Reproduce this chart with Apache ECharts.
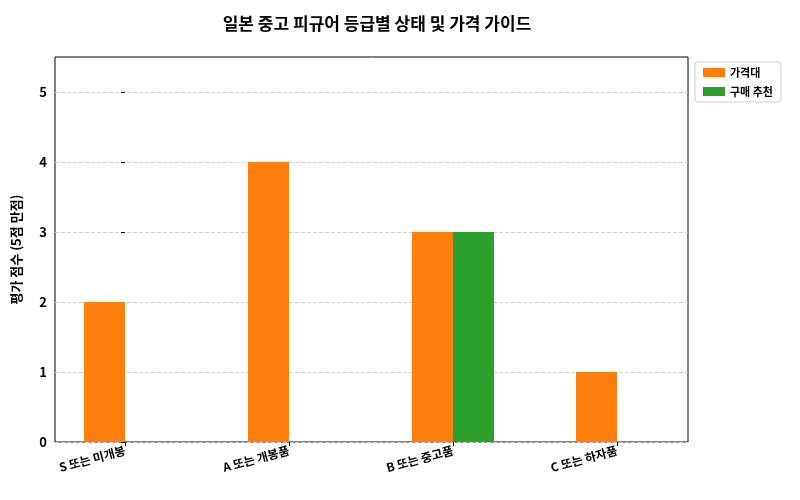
<!DOCTYPE html>
<html>
<head>
<meta charset="utf-8">
<script src="https://cdn.jsdelivr.net/npm/echarts@6/dist/echarts.min.js"></script>
<style>html,body{margin:0;padding:0;background:#fff}#chart{width:800px;height:500px}</style>
</head>
<body>
<div id="chart"></div>
<script>
var categories = ["S 또는 미개봉", "A 또는 개봉품", "B 또는 중고품", "C 또는 하자품"];
var priceBand = [2, 4, 3, 1];        // 가격대
var recommend = [null, null, 3, null]; // 구매 추천
var yTicks = [0, 1, 2, 3, 4, 5];

var font = "'Noto Sans CJK KR', sans-serif";
var chart = echarts.init(document.getElementById('chart'));

var orangeData = priceBand.map(function (v, i) { return v == null ? null : [i - 0.125, v]; }).filter(Boolean);
var greenData = recommend.map(function (v, i) { return v == null ? null : [i + 0.125, v]; }).filter(Boolean);

chart.setOption({
  animation: false,
  textStyle: { fontFamily: font },
  title: {
    text: '일본 중고 피규어 등급별 상태 및 가격 가이드',
    left: 372, top: 10, textAlign: 'center',
    textStyle: { fontSize: 17, fontWeight: 'bold', color: '#000', fontFamily: font }
  },
  legend: {
    orient: 'vertical', left: 695, top: 62,
    itemWidth: 22, itemHeight: 9, itemGap: 8,
    padding: [5, 8], borderColor: '#ccc', borderWidth: 1, borderRadius: 3,
    textStyle: { fontSize: 11, fontWeight: 'bold', color: '#000', fontFamily: font },
    data: [{ name: '가격대', icon: 'rect' }, { name: '구매 추천', icon: 'rect' }]
  },
  grid: { left: 55, right: 112, top: 57, bottom: 58, show: true, borderColor: '#000', borderWidth: 1 },
  xAxis: {
    type: 'value', min: -0.427, max: 3.433,
    splitLine: { show: false },
    axisLine: { show: false },
    axisTick: { show: true, customValues: [0, 1, 2, 3], length: 4, lineStyle: { color: '#000' } },
    axisLabel: {
      customValues: [0, 1, 2, 3], rotate: 15, margin: 8,
      fontSize: 12, fontWeight: 'bold', color: '#000', fontFamily: font,
      formatter: function (v) { return categories[Math.round(v)]; }
    }
  },
  yAxis: {
    type: 'value', min: 0, max: 5.5,
    name: '평가 점수 (5점 만점)', nameLocation: 'middle', nameGap: 32,
    nameTextStyle: { fontSize: 13, fontWeight: 'bold', color: '#000', fontFamily: font },
    axisLine: { show: false },
    axisTick: { show: true, customValues: yTicks, length: 4, lineStyle: { color: '#000' } },
    axisLabel: { customValues: yTicks, fontSize: 13, fontWeight: 'bold', color: '#000', fontFamily: font },
    splitLine: { show: true, customValues: yTicks, lineStyle: { type: 'dashed', color: '#d0d0d0' } }
  },
  series: [
    { name: '가격대', type: 'bar', data: orangeData, barWidth: 41, barGap: '-100%', itemStyle: { color: '#ff7f0e' } },
    { name: '구매 추천', type: 'bar', data: greenData, barWidth: 41, barGap: '-100%', itemStyle: { color: '#2ca02c' } }
  ]
});
</script>
</body>
</html>
